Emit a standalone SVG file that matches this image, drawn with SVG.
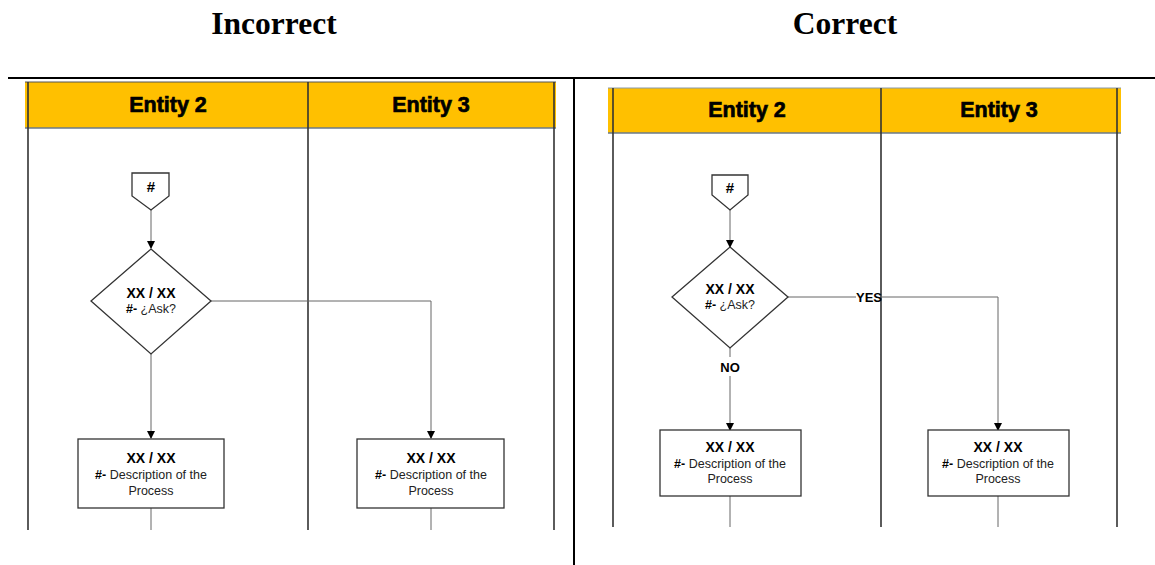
<svg xmlns="http://www.w3.org/2000/svg" width="1155" height="565" viewBox="0 0 1155 565">
<style>
.title{font-family:"Liberation Serif",serif;font-weight:bold;font-size:31.5px;fill:#000;text-anchor:middle}
.hdr{font-family:"Liberation Sans",Arial,sans-serif;font-weight:bold;font-size:21.5px;fill:#000;stroke:#000;stroke-width:0.7;text-anchor:middle}
.lane{stroke:#333;stroke-width:1.6;fill:none}
.node{fill:#fff;stroke:#333;stroke-width:1.3}
.b{font-family:"Liberation Sans",Arial,sans-serif;font-weight:bold;font-size:14px;fill:#000;text-anchor:middle}
.t{font-family:"Liberation Sans",Arial,sans-serif;font-size:12.5px;fill:#222;text-anchor:middle}
.tb{font-weight:bold;fill:#000}
.conn{stroke:#666;stroke-width:1;fill:none}
.lbl{font-family:"Liberation Sans",Arial,sans-serif;font-weight:bold;font-size:13px;fill:#000;text-anchor:middle}
</style>
<defs>
<marker id="arr" markerWidth="8" markerHeight="8" refX="7" refY="4" orient="auto" markerUnits="userSpaceOnUse">
<path d="M0,0 L8,4 L0,8 Z" fill="#000"/>
</marker>
</defs>
<rect width="1155" height="565" fill="#fff"/>
<g id="titles">
<text class="title" x="274" y="34">Incorrect</text>
<text class="title" x="845" y="34">Correct</text>
</g>
<g id="frame">
<line x1="8" y1="78" x2="1155" y2="78" stroke="#000" stroke-width="2"/>
<line x1="574" y1="78" x2="574" y2="565" stroke="#000" stroke-width="2"/>
</g>
<!-- Left panel -->
<g id="left-lanes">
<rect x="25" y="82" width="531" height="46" fill="#FFC000"/>
<line x1="25" y1="128" x2="556" y2="128" stroke="#6a7a8a" stroke-width="1.5"/>
<line x1="25" y1="82" x2="556" y2="82" stroke="#555" stroke-width="1"/>
<line class="lane" x1="28" y1="82" x2="28" y2="530"/>
<line class="lane" x1="308" y1="82" x2="308" y2="530"/>
<line class="lane" x1="554" y1="82" x2="554" y2="530"/>
<text class="hdr" x="168" y="112">Entity 2</text>
<text class="hdr" x="431" y="112">Entity 3</text>
</g>
<g id="left-connectors">
<line class="conn" x1="151" y1="210" x2="151" y2="248" marker-end="url(#arr)"/>
<path class="conn" d="M211,301 H431 V438" marker-end="url(#arr)"/>
<line class="conn" x1="151" y1="354" x2="151" y2="438" marker-end="url(#arr)"/>
<line class="conn" x1="151" y1="508" x2="151" y2="530"/>
<line class="conn" x1="431" y1="508" x2="431" y2="530"/>
</g>
<g id="left-start">
<path class="node" d="M132,173 H169 V196 L151,210 L132,196 Z"/>
<text class="b" x="151" y="192" style="font-size:15px">#</text>
</g>
<g id="left-decision">
<path class="node" d="M151,249 L211,301 L151,354 L91,301 Z"/>
<text class="b" x="151" y="298">XX / XX</text>
<text class="t" x="151" y="313"><tspan class="tb">#-</tspan> ¿Ask?</text>
</g>
<g id="left-process-1">
<rect class="node" x="78" y="439" width="146" height="69"/>
<text class="b" x="151" y="463">XX / XX</text>
<text class="t" x="151" y="479"><tspan class="tb">#-</tspan> Description of the</text>
<text class="t" x="151" y="495">Process</text>
</g>
<g id="left-process-2">
<rect class="node" x="357" y="439" width="147" height="69"/>
<text class="b" x="431" y="463">XX / XX</text>
<text class="t" x="431" y="479"><tspan class="tb">#-</tspan> Description of the</text>
<text class="t" x="431" y="495">Process</text>
</g>
<!-- Right panel -->
<g id="right-lanes">
<rect x="608" y="88" width="513" height="45" fill="#FFC000"/>
<line x1="608" y1="133" x2="1121" y2="133" stroke="#6a7a8a" stroke-width="1.5"/>
<line x1="608" y1="88" x2="1121" y2="88" stroke="#8899aa" stroke-width="1"/>
<line class="lane" x1="613" y1="88" x2="613" y2="527"/>
<line class="lane" x1="881" y1="88" x2="881" y2="527"/>
<line class="lane" x1="1117" y1="88" x2="1117" y2="527"/>
<text class="hdr" x="747" y="117">Entity 2</text>
<text class="hdr" x="999" y="117">Entity 3</text>
</g>
<g id="right-connectors">
<line class="conn" x1="730" y1="210" x2="730" y2="247" marker-end="url(#arr)"/>
<line class="conn" x1="788" y1="297" x2="856" y2="297"/>
<path class="conn" d="M881,297 H998 V430" marker-end="url(#arr)"/>
<line class="conn" x1="730" y1="348" x2="730" y2="357"/>
<line class="conn" x1="730" y1="376" x2="730" y2="430" marker-end="url(#arr)"/>
<line class="conn" x1="730" y1="496" x2="730" y2="527"/>
<line class="conn" x1="998" y1="496" x2="998" y2="527"/>
<text class="lbl" x="869" y="302">YES</text>
<text class="lbl" x="730" y="372">NO</text>
</g>
<g id="right-start">
<path class="node" d="M712,175 H748 V195 L730,210 L712,195 Z"/>
<text class="b" x="730" y="193" style="font-size:15px">#</text>
</g>
<g id="right-decision">
<path class="node" d="M730,247 L788,297 L730,348 L672,297 Z"/>
<text class="b" x="730" y="294">XX / XX</text>
<text class="t" x="730" y="309"><tspan class="tb">#-</tspan> ¿Ask?</text>
</g>
<g id="right-process-1">
<rect class="node" x="660" y="430" width="141" height="66"/>
<text class="b" x="730" y="452">XX / XX</text>
<text class="t" x="730" y="468"><tspan class="tb">#-</tspan> Description of the</text>
<text class="t" x="730" y="483">Process</text>
</g>
<g id="right-process-2">
<rect class="node" x="928" y="430" width="141" height="66"/>
<text class="b" x="998" y="452">XX / XX</text>
<text class="t" x="998" y="468"><tspan class="tb">#-</tspan> Description of the</text>
<text class="t" x="998" y="483">Process</text>
</g>
</svg>
